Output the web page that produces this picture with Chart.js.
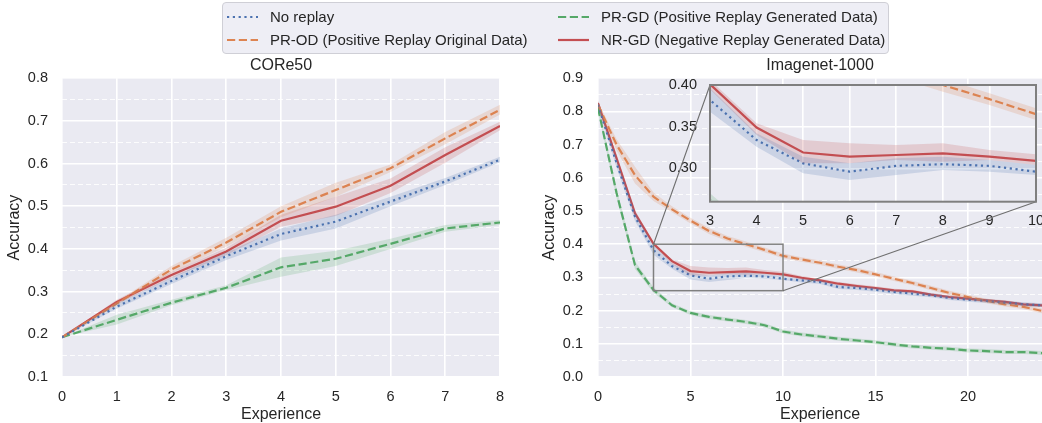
<!DOCTYPE html>
<html>
<head>
<meta charset="utf-8">
<script src="https://cdn.jsdelivr.net/npm/chart.js@4"></script>
<style>
  html, body { margin: 0; padding: 0; overflow: hidden; background: #fff; }
  body { position: relative; width: 1042px; height: 423px; font-family: 'Liberation Sans', Arial, sans-serif; }
  canvas { position: absolute; top: 0; }
  #legend {
    position: absolute; left: 222px; top: 2px; width: 665px; height: 50px; z-index: 5;
    background: rgba(234, 234, 242, 0.8); border: 1px solid #cfcfd6; border-radius: 4px;
    color: #262626; font-size: 15px;
  }
  .item { position: absolute; height: 20px; line-height: 20px; white-space: nowrap; }
  .item svg { position: absolute; left: 0; top: 8px; }
  .item span { position: absolute; left: 43px; top: 0; }
</style>
</head>
<body>
<div id="legend"></div>
<canvas id="core" width="530" height="423" style="left:0"></canvas>
<canvas id="imagenet" width="512" height="423" style="left:530px"></canvas>
<canvas id="inset" width="560" height="423" style="left:530px"></canvas>
<script>
// series names
const seriesNames = [
    'No replay',
    'PR-OD (Positive Replay Original Data)',
    'PR-GD (Positive Replay Generated Data)',
    'NR-GD (Negative Replay Generated Data)'
];

// CORe50
const coreSteps = [0, 1, 2, 3, 4, 5, 6, 7, 8];
const coreNoReplay = [0.193, 0.265, 0.325, 0.383, 0.435, 0.464, 0.511, 0.558, 0.609];
const coreNoReplayLow = [0.193, 0.260, 0.318, 0.374, 0.420, 0.448, 0.500, 0.550, 0.603];
const coreNoReplayHigh = [0.193, 0.272, 0.333, 0.392, 0.448, 0.480, 0.522, 0.566, 0.616];
const corePROD = [0.193, 0.272, 0.352, 0.415, 0.487, 0.538, 0.589, 0.659, 0.726];
const corePRODLow = [0.193, 0.268, 0.345, 0.405, 0.474, 0.522, 0.580, 0.645, 0.715];
const corePRODHigh = [0.193, 0.277, 0.360, 0.426, 0.500, 0.555, 0.598, 0.674, 0.738];
const corePRGD = [0.193, 0.234, 0.274, 0.309, 0.357, 0.377, 0.412, 0.448, 0.462];
const corePRGDLow = [0.193, 0.223, 0.268, 0.304, 0.335, 0.360, 0.400, 0.440, 0.456];
const corePRGDHigh = [0.193, 0.246, 0.281, 0.315, 0.380, 0.396, 0.424, 0.456, 0.468];
const coreNRGD = [0.193, 0.276, 0.339, 0.394, 0.466, 0.499, 0.548, 0.620, 0.688];
const coreNRGDLow = [0.193, 0.271, 0.332, 0.385, 0.452, 0.477, 0.531, 0.602, 0.678];
const coreNRGDHigh = [0.193, 0.281, 0.346, 0.403, 0.480, 0.522, 0.565, 0.638, 0.698];

// Imagenet-1000
const imgSteps = [0, 1, 2, 3, 4, 5, 6, 7, 8, 9, 10, 11, 12, 13, 14, 15, 16, 17, 18, 19, 20, 21, 22, 23, 24];
const imgNoReplay = [0.820, 0.645, 0.483, 0.382, 0.334, 0.306, 0.296, 0.303, 0.305, 0.303, 0.296, 0.291, 0.286, 0.271, 0.268, 0.263, 0.256, 0.251, 0.246, 0.238, 0.233, 0.229, 0.224, 0.219, 0.216];
const imgNoReplayLow = [0.810, 0.632, 0.470, 0.368, 0.326, 0.294, 0.286, 0.292, 0.298, 0.296, 0.292, 0.285, 0.280, 0.265, 0.262, 0.257, 0.250, 0.245, 0.240, 0.232, 0.227, 0.223, 0.218, 0.213, 0.210];
const imgNoReplayHigh = [0.830, 0.658, 0.496, 0.396, 0.342, 0.314, 0.306, 0.312, 0.314, 0.310, 0.304, 0.297, 0.292, 0.277, 0.274, 0.269, 0.262, 0.257, 0.252, 0.244, 0.239, 0.235, 0.230, 0.225, 0.222];
const imgPROD = [0.820, 0.700, 0.608, 0.543, 0.505, 0.471, 0.440, 0.417, 0.400, 0.383, 0.365, 0.354, 0.344, 0.332, 0.322, 0.309, 0.296, 0.283, 0.268, 0.253, 0.241, 0.229, 0.219, 0.211, 0.199];
const imgPRODLow = [0.812, 0.683, 0.583, 0.530, 0.496, 0.462, 0.431, 0.409, 0.392, 0.376, 0.358, 0.347, 0.337, 0.325, 0.315, 0.302, 0.289, 0.276, 0.261, 0.246, 0.234, 0.222, 0.212, 0.204, 0.192];
const imgPRODHigh = [0.828, 0.717, 0.633, 0.556, 0.514, 0.480, 0.449, 0.425, 0.408, 0.390, 0.372, 0.361, 0.351, 0.339, 0.329, 0.316, 0.303, 0.290, 0.275, 0.260, 0.248, 0.236, 0.226, 0.218, 0.206];
const imgPRGD = [0.810, 0.555, 0.337, 0.262, 0.216, 0.193, 0.181, 0.173, 0.166, 0.156, 0.137, 0.128, 0.122, 0.115, 0.110, 0.105, 0.098, 0.092, 0.088, 0.085, 0.080, 0.078, 0.075, 0.075, 0.072];
const imgPRGDLow = [0.800, 0.540, 0.325, 0.254, 0.210, 0.187, 0.175, 0.167, 0.160, 0.150, 0.131, 0.122, 0.116, 0.109, 0.104, 0.099, 0.092, 0.086, 0.082, 0.079, 0.074, 0.072, 0.069, 0.069, 0.066];
const imgPRGDHigh = [0.820, 0.570, 0.349, 0.270, 0.222, 0.199, 0.187, 0.179, 0.172, 0.162, 0.143, 0.134, 0.128, 0.121, 0.116, 0.111, 0.104, 0.098, 0.094, 0.091, 0.086, 0.084, 0.081, 0.081, 0.078];
const imgNRGD = [0.825, 0.659, 0.493, 0.401, 0.349, 0.319, 0.314, 0.316, 0.318, 0.314, 0.309, 0.299, 0.291, 0.281, 0.274, 0.268, 0.261, 0.258, 0.248, 0.241, 0.236, 0.231, 0.226, 0.219, 0.216];
const imgNRGDLow = [0.815, 0.648, 0.484, 0.395, 0.340, 0.306, 0.306, 0.310, 0.308, 0.310, 0.304, 0.294, 0.286, 0.276, 0.269, 0.263, 0.256, 0.253, 0.243, 0.236, 0.231, 0.226, 0.221, 0.214, 0.211];
const imgNRGDHigh = [0.832, 0.670, 0.502, 0.406, 0.354, 0.334, 0.330, 0.328, 0.330, 0.322, 0.317, 0.304, 0.296, 0.286, 0.279, 0.273, 0.266, 0.263, 0.253, 0.246, 0.241, 0.236, 0.231, 0.224, 0.221];

// ticks
const coreXTicks = [0, 1, 2, 3, 4, 5, 6, 7, 8];
const coreYTicks = [0.1, 0.15, 0.2, 0.25, 0.3, 0.35, 0.4, 0.45, 0.5, 0.55, 0.6, 0.65, 0.7, 0.75, 0.8];
const imgXTicks = [0, 5, 10, 15, 20];
const imgYTicks = [0, 0.05, 0.1, 0.15, 0.2, 0.25, 0.3, 0.35, 0.4, 0.45, 0.5, 0.55, 0.6, 0.65, 0.7, 0.75, 0.8, 0.85, 0.9];
const insetXTicks = [3, 4, 5, 6, 7, 8, 9, 10];
const insetYTicks = [0.30, 0.35, 0.40];
const insetXRange = [3, 10];
const insetYRange = [0.26, 0.40];

// styles
const lineColors = ['#4C72B0', '#DD8452', '#55A868', '#C44E52'];
const bandColors = ['rgba(76,114,176,0.2)', 'rgba(221,132,82,0.2)', 'rgba(85,168,104,0.2)', 'rgba(196,78,82,0.2)'];
const lineDashes = [[2.2, 3.6], [8.2, 3.6], [8.2, 3.6], []];
const textColor = '#262626';

Chart.defaults.font.family = "'Liberation Sans', Arial, sans-serif";
Chart.defaults.color = textColor;

// legend (html)
const legendPos = [[4, 4], [4, 27], [335, 4], [335, 27]];
const legend = document.getElementById('legend');
seriesNames.forEach((name, k) => {
    const item = document.createElement('div');
    item.className = 'item';
    item.style.left = legendPos[k][0] + 'px';
    item.style.top = legendPos[k][1] + 'px';
    const dash = lineDashes[k].length ? lineDashes[k].join(' ') : 'none';
    item.innerHTML = '<svg width="31" height="4"><line x1="0" y1="2" x2="31" y2="2" stroke="' + lineColors[k] +
        '" stroke-width="2.2" stroke-dasharray="' + dash + '"/></svg><span>' + name + '</span>';
    legend.appendChild(item);
});

const isMajor = v => Math.abs(v * 10 - Math.round(v * 10)) < 1e-6;

function pts(steps, vals) {
    return steps.map((x, i) => ({ x: x, y: vals[i] }));
}

function buildDatasets(steps, lines, lows, highs) {
    const ds = [];
    lines.forEach((_, k) => {
        ds.push({ data: pts(steps, lows[k]), borderWidth: 0, borderColor: 'transparent', pointRadius: 0, fill: false });
        ds.push({ data: pts(steps, highs[k]), borderWidth: 0, borderColor: 'transparent', pointRadius: 0, fill: '-1', backgroundColor: bandColors[k] });
    });
    lines.forEach((vals, k) => {
        ds.push({
            label: seriesNames[k], data: pts(steps, vals), borderColor: lineColors[k], borderWidth: 2.2,
            borderDash: lineDashes[k], borderCapStyle: 'butt', pointRadius: 0, fill: false, tension: 0
        });
    });
    return ds;
}

const plotBg = {
    id: 'plotBg',
    beforeDraw(chart) {
        const { ctx, chartArea: a } = chart;
        ctx.save();
        ctx.fillStyle = '#EAEAF2';
        ctx.fillRect(a.left, a.top, a.right - a.left, a.bottom - a.top);
        ctx.restore();
    }
};

function xAxis(min, max, tickVals, titleText, height, tickPad) {
    return {
        type: 'linear', min: min, max: max,
        afterBuildTicks: s => { s.ticks = tickVals.map(v => ({ value: v })); },
        afterFit: s => { s.height = height; },
        ticks: { autoSkip: false, maxRotation: 0, includeBounds: false, padding: tickPad, font: { size: 14.5 }, color: textColor, callback: v => String(v) },
        grid: { color: '#ffffff', lineWidth: 1.6, drawTicks: false },
        border: { display: false },
        title: { display: !!titleText, text: titleText, font: { size: 16, lineHeight: 1.0 }, padding: { top: 0, bottom: 0 }, color: textColor }
    };
}

function yAxis(min, max, tickVals, titleText, width, tickPad, titlePad, digits, withMinor) {
    return {
        type: 'linear', min: min, max: max,
        afterBuildTicks: s => { s.ticks = tickVals.map(v => ({ value: v })); },
        afterFit: s => { s.width = width; },
        ticks: {
            autoSkip: false, padding: tickPad, font: { size: 14.5 }, color: textColor,
            callback: v => (!withMinor || isMajor(v)) ? v.toFixed(digits) : ''
        },
        grid: {
            drawTicks: false,
            color: c => (!withMinor || isMajor(c.tick.value)) ? '#ffffff' : 'rgba(255,255,255,0.85)',
            lineWidth: c => (!withMinor || isMajor(c.tick.value)) ? 1.6 : 1
        },
        border: { display: false, dash: c => (!withMinor || isMajor(c.tick.value)) ? [] : [5, 3] },
        title: { display: !!titleText, text: titleText, font: { size: 16 }, padding: { top: titlePad, bottom: 0 }, color: textColor }
    };
}

function titleOpts(text) {
    return { display: true, text: text, fullSize: false, font: { size: 16, weight: 'normal' }, color: textColor, padding: { top: 0, bottom: 3 } };
}

new Chart(document.getElementById('core'), {
    type: 'line',
    data: {
        datasets: buildDatasets(coreSteps,
            [coreNoReplay, corePROD, corePRGD, coreNRGD],
            [coreNoReplayLow, corePRODLow, corePRGDLow, coreNRGDLow],
            [coreNoReplayHigh, corePRODHigh, corePRGDHigh, coreNRGDHigh])
    },
    options: {
        responsive: false, animation: false, events: [],
        layout: { padding: { top: 56, left: 0, right: 30, bottom: 0 } },
        plugins: { legend: { display: false }, tooltip: { enabled: false }, title: titleOpts('CORe50') },
        scales: {
            x: xAxis(0, 8, coreXTicks, 'Experience', 46, 11.5),
            y: yAxis(0.1, 0.8, coreYTicks, 'Accuracy', 62, 14, 5, 1, true)
        }
    },
    plugins: [plotBg]
});

const imgLines = [imgNoReplay, imgPROD, imgPRGD, imgNRGD];
const imgLows = [imgNoReplayLow, imgPRODLow, imgPRGDLow, imgNRGDLow];
const imgHighs = [imgNoReplayHigh, imgPRODHigh, imgPRGDHigh, imgNRGDHigh];

const imagenetChart = new Chart(document.getElementById('imagenet'), {
    type: 'line',
    data: { datasets: buildDatasets(imgSteps, imgLines, imgLows, imgHighs) },
    options: {
        responsive: false, animation: false, events: [],
        layout: { padding: { top: 56, left: 0, right: 0, bottom: 0 } },
        plugins: { legend: { display: false }, tooltip: { enabled: false }, title: titleOpts('Imagenet-1000') },
        scales: {
            x: xAxis(0, 24, imgXTicks, 'Experience', 46, 11.5),
            y: yAxis(0, 0.9, imgYTicks, 'Accuracy', 68, 15, 10.4, 1, true)
        }
    },
    plugins: [plotBg]
});

// zoom box, connectors and inset frame
const insetFrame = {
    id: 'insetFrame',
    afterDraw(chart) {
        const { ctx, chartArea: a } = chart;
        const sx = imagenetChart.scales.x, sy = imagenetChart.scales.y;
        const bx0 = sx.getPixelForValue(insetXRange[0]), bx1 = sx.getPixelForValue(insetXRange[1]);
        const byTop = sy.getPixelForValue(insetYRange[1]), byBot = sy.getPixelForValue(insetYRange[0]);
        ctx.save();
        ctx.strokeStyle = '#808080';
        ctx.lineWidth = 1.5;
        ctx.strokeRect(bx0, byTop, bx1 - bx0, byBot - byTop);
        ctx.lineWidth = 1.1;
        ctx.strokeStyle = '#6f6f6f';
        ctx.beginPath();
        ctx.moveTo(bx0, byTop); ctx.lineTo(a.left, a.top);
        ctx.moveTo(bx1, byBot); ctx.lineTo(a.right, a.bottom);
        ctx.stroke();
        ctx.strokeStyle = '#7f7f7f';
        ctx.lineWidth = 2;
        ctx.strokeRect(a.left, a.top, a.right - a.left, a.bottom - a.top);
        ctx.restore();
    }
};

new Chart(document.getElementById('inset'), {
    type: 'line',
    data: { datasets: buildDatasets(imgSteps, imgLines, imgLows, imgHighs) },
    options: {
        responsive: false, animation: false, events: [],
        layout: { padding: { top: 85, left: 0, right: 54, bottom: 181.3 } },
        plugins: { legend: { display: false }, tooltip: { enabled: false }, title: { display: false } },
        scales: {
            x: xAxis(insetXRange[0], insetXRange[1], insetXTicks, '', 40, 11),
            y: yAxis(insetYRange[0], insetYRange[1], insetYTicks, '', 180, 13, 0, 2, false)
        }
    },
    plugins: [plotBg, insetFrame]
});
</script>
</body>
</html>
